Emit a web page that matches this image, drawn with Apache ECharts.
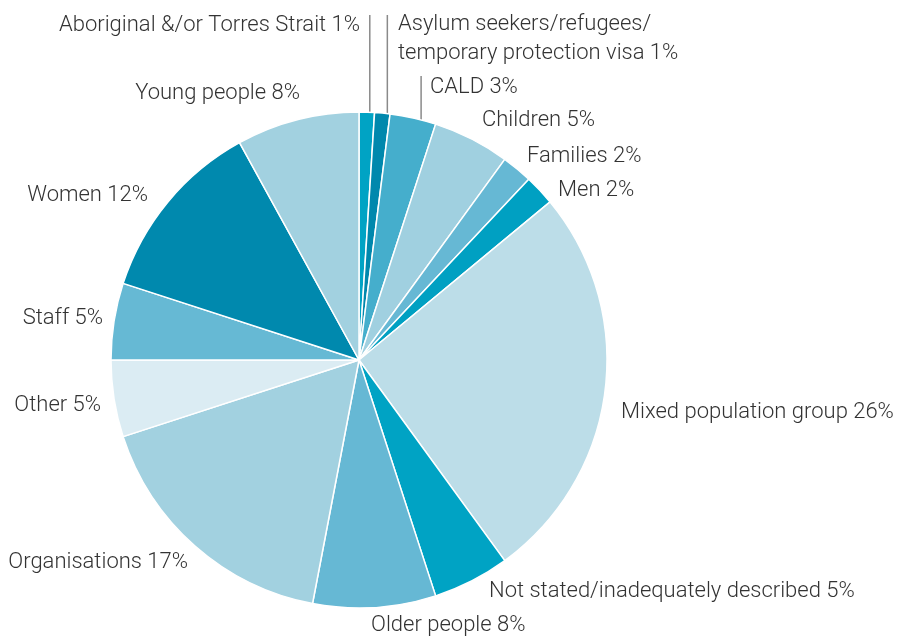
<!DOCTYPE html>
<html>
<head>
<meta charset="utf-8">
<script src="https://cdn.jsdelivr.net/npm/echarts@6/dist/echarts.min.js"></script>
<style>
  html, body { margin: 0; padding: 0; background: #fff; }
  #chart { width: 900px; height: 637px; }
</style>
</head>
<body>
<div id="chart"></div>
<script>
// Population groups, clockwise from 12 o'clock, with their share (%)
const groups = [
  'Aboriginal &/or Torres Strait',
  'Asylum seekers/refugees/\ntemporary protection visa',
  'CALD',
  'Children',
  'Families',
  'Men',
  'Mixed population group',
  'Not stated/inadequately described',
  'Older people',
  'Organisations',
  'Other',
  'Staff',
  'Women',
  'Young people'
];
const shares = [1, 1, 3, 5, 2, 2, 26, 5, 8, 17, 5, 5, 12, 8];
const sliceColors = [
  '#00a3c4', '#0088ad', '#45aecc', '#a0d0e0', '#66b8d4', '#00a0c2', '#bcdde8',
  '#00a3c4', '#66b8d4', '#a2d1e0', '#dbecf3', '#66b9d4', '#0089ae', '#a2d1e0'
];

const CX = 359, CY = 360, R = 248;

// Groups whose labels sit above the pie with a vertical leader line:
// top end of the line and sideways nudge along the rim
const leaders = { 0: { top: 15, shift: 3 }, 1: { top: 15, shift: 5 }, 2: { top: 76, shift: 8 } };

// Label anchor for each slice: [x, y, align, verticalAlign]
const labelAnchors = [
  [360, 25, 'right', 'middle'],
  [398, 10, 'left', 'top'],
  [430, 87, 'left', 'middle'],
  [482, 120, 'left', 'middle'],
  [527, 156, 'left', 'middle'],
  [558, 190, 'left', 'middle'],
  [621, 412, 'left', 'middle'],
  [489, 591, 'left', 'middle'],
  [371, 625, 'left', 'middle'],
  [188, 562, 'right', 'middle'],
  [101, 405, 'right', 'middle'],
  [103, 318, 'right', 'middle'],
  [148, 195, 'right', 'middle'],
  [300, 93, 'right', 'middle']
];

const chart = echarts.init(document.getElementById('chart'), null, { renderer: 'canvas' });

const data = groups.map((name, i) => ({
  name: name,
  value: shares[i],
  itemStyle: { color: sliceColors[i] },
  labelLine: { show: i in leaders }
}));

chart.setOption({
  animation: false,
  series: [{
    type: 'pie',
    center: [CX, CY],
    radius: R,
    startAngle: 90,
    clockwise: true,
    avoidLabelOverlap: false,
    itemStyle: { borderColor: '#ffffff', borderWidth: 1.5 },
    label: {
      show: true,
      position: 'outside',
      formatter: '{b} {c}%',
      fontFamily: 'Roboto',
      fontWeight: 300,
      fontSize: 22,
      lineHeight: 29,
      color: '#333333'
    },
    labelLine: {
      length: 10,
      length2: 0,
      lineStyle: { color: '#8a8a8a', width: 1.5 }
    },
    labelLayout: function (params) {
      const i = params.dataIndex;
      const a = labelAnchors[i];
      const out = { x: a[0], y: a[1], align: a[2], verticalAlign: a[3] };
      const ld = leaders[i];
      if (ld && params.labelLinePoints) {
        const lx = params.labelLinePoints[0][0] + ld.shift;
        const ly = CY - Math.sqrt(R * R - (lx - CX) * (lx - CX));
        out.labelLinePoints = [[lx, ly], [lx, ld.top], [lx, ld.top]];
      }
      return out;
    },
    data: data
  }]
});
</script>
</body>
</html>
